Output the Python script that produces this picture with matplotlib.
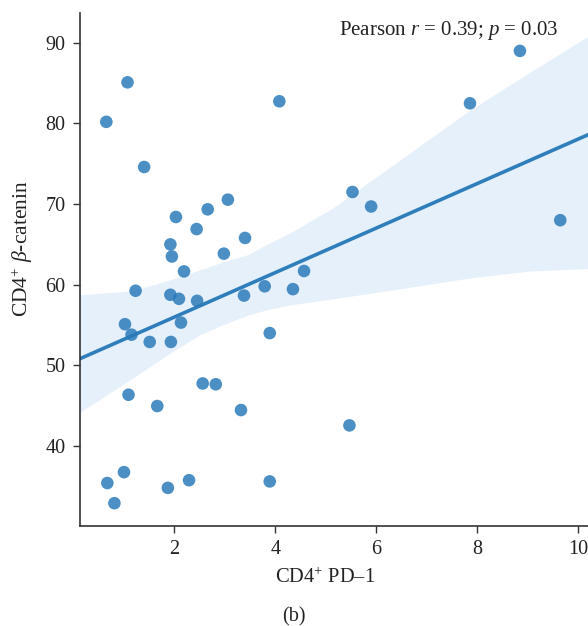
import numpy as np
import matplotlib
matplotlib.use("Agg")
import matplotlib.pyplot as plt

plt.rcParams['font.family'] = ['Liberation Serif', 'DejaVu Serif']
plt.rcParams['mathtext.fontset'] = 'custom'
plt.rcParams['mathtext.rm'] = 'Liberation Serif'
plt.rcParams['mathtext.it'] = 'Liberation Serif:italic'

pd1 = [0.65, 1.07, 1.40, 4.08, 3.06, 2.66, 2.03, 2.44, 3.40, 1.92, 1.95,
       2.98, 2.19, 1.23, 1.92, 2.09, 2.45, 3.38, 3.79, 4.35, 4.57, 5.53,
       5.90, 7.86, 8.85, 9.65, 1.02, 1.15, 1.51, 1.93, 2.13, 3.89, 1.09,
       1.66, 2.56, 2.82, 3.32, 5.47, 0.67, 1.00, 0.81, 1.87, 2.29, 3.89]
catenin = [80.2, 85.1, 74.6, 82.75, 70.55, 69.35, 68.4, 66.9, 65.8, 65.0, 63.5,
           63.85, 61.65, 59.25, 58.75, 58.25, 58.0, 58.65, 59.8, 59.45, 61.7, 71.5,
           69.7, 82.5, 89.0, 68.0, 55.1, 53.8, 52.9, 52.9, 55.3, 54.0, 46.35,
           44.95, 47.75, 47.65, 44.45, 42.55, 35.4, 36.75, 32.9, 34.8, 35.75, 35.6]

fit_x = [0.12, 10.2]
fit_y = [50.8, 78.6]

band_x = [0.12, 1.18, 1.86, 2.51, 2.95, 3.44, 3.84, 4.30, 5.15, 6.48, 7.87, 9.06, 10.2]
band_hi = [58.75, 59.25, 60.5, 61.85, 62.8, 63.7, 65.0, 66.45, 69.55, 75.5, 81.7, 86.4, 90.8]
band_lo = [44.15, 48.45, 51.3, 53.8, 55.0, 56.2, 56.9, 57.5, 58.25, 59.5, 60.85, 61.7, 62.0]

x_ticks = [2, 4, 6, 8, 10]
y_ticks = [40, 50, 60, 70, 80, 90]

fig = plt.figure(figsize=(5.88, 6.26), dpi=100)
ax = fig.add_axes([79.5 / 588, 100 / 626, 508.5 / 588, 513 / 626])

ax.fill_between(band_x, band_lo, band_hi, color='#e6f0fa', lw=0, zorder=1)
ax.plot(fit_x, fit_y, color='#2f7ebc', lw=2.6, zorder=2)
ax.scatter(pd1, catenin, s=82, color='#2b7bba', alpha=0.85, edgecolors='none', zorder=3)

ax.set_xlim(0.118, 10.2)
ax.set_ylim(30.07, 93.7)
ax.set_xticks(x_ticks)
ax.set_yticks(y_ticks)
ax.tick_params(labelsize=14.5, length=5, width=1, color='#333333', labelcolor='#222222', pad=5)

ax.spines['top'].set_visible(False)
ax.spines['right'].set_visible(False)
for s in ['left', 'bottom']:
    ax.spines[s].set_linewidth(1.2)
    ax.spines[s].set_color('#333333')

fig.text(325 / 588, 1 - 578 / 626, r'CD4$^{+}$ PD–1', fontsize=14.8, color='#222222',
         ha='center', va='center')
fig.text(22 / 588, 1 - 249 / 626, r'CD4$^{+}$ $\beta$-catenin', fontsize=15.5, color='#222222',
         ha='center', va='center', rotation=90)
fig.text(449 / 588, 1 - 30 / 626, r'Pearson $r$ = 0.39; $p$ = 0.03', fontsize=15, color='#222222',
         ha='center', va='center')
fig.text(294 / 588, 1 - 617 / 626, '(b)', fontsize=14.5, color='#222222', ha='center', va='center')

fig.savefig('out.png', dpi=100)
